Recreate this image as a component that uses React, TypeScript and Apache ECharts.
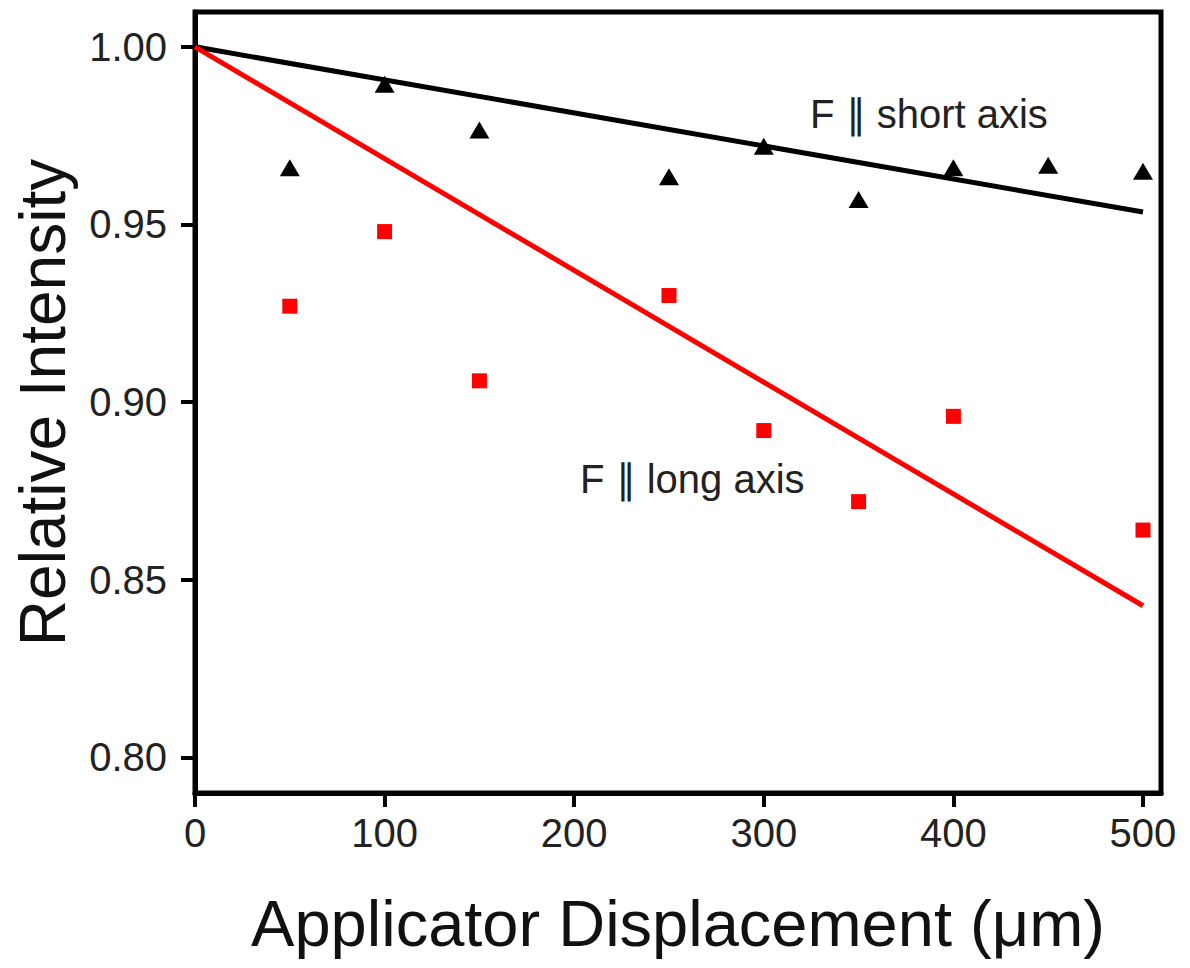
import React, { useEffect, useRef } from "react";
import * as echarts from "echarts";

const shortAxisX = [50, 100, 150, 250, 300, 350, 400, 450, 500];
const shortAxisY = [0.966, 0.9895, 0.9766, 0.9634, 0.972, 0.957, 0.966, 0.9667, 0.965];
const longAxisX = [50, 100, 150, 250, 300, 350, 400, 500];
const longAxisY = [0.927, 0.948, 0.906, 0.930, 0.892, 0.872, 0.896, 0.864];
const shortFitX = [0, 500];
const shortFitY = [1.0, 0.9535];
const longFitX = [0, 500];
const longFitY = [1.0, 0.8427];
const xTicks = [0, 100, 200, 300, 400, 500];
const yTicks = [0.8, 0.85, 0.9, 0.95, 1.0];

const FONT = "'Liberation Sans', Arial, Helvetica, sans-serif";

export default function App() {
  const ref = useRef<HTMLDivElement>(null);
  useEffect(() => {
    if (!ref.current) return;
    const chart = echarts.init(ref.current, null, { renderer: "svg" });
    const pair = (xs: number[], ys: number[]) => xs.map((x, i) => [x, ys[i]]);
    chart.setOption({
      animation: false,
      backgroundColor: "#fff",
      textStyle: { fontFamily: FONT },
      grid: {
        left: 195,
        right: 29,
        top: 12,
        bottom: 175,
        show: true,
        borderColor: "#000",
        borderWidth: 5,
      },
      xAxis: {
        type: "value",
        min: 0,
        max: 509.5,
        name: "Applicator Displacement (\u03bcm)",
        nameLocation: "middle",
        nameGap: 98,
        nameTextStyle: { fontSize: 65, color: "#111", fontFamily: FONT },
        axisLine: { show: true, onZero: false, lineStyle: { color: "#000", width: 5 } },
        axisTick: { show: true, length: 14, customValues: xTicks, lineStyle: { color: "#000", width: 4 } },
        axisLabel: {
          fontSize: 40,
          color: "#222",
          margin: 20,
          fontFamily: FONT,
          customValues: xTicks,
          formatter: (v: number) => String(Math.round(v)),
        },
        splitLine: { show: false },
      },
      yAxis: {
        type: "value",
        min: 0.79,
        max: 1.0098,
        name: "Relative Intensity",
        nameLocation: "middle",
        nameGap: 120,
        nameTextStyle: { fontSize: 64, color: "#111", fontFamily: FONT },
        axisLine: { show: true, onZero: false, lineStyle: { color: "#000", width: 5 } },
        axisTick: { show: true, length: 14, customValues: yTicks, lineStyle: { color: "#000", width: 4 } },
        axisLabel: {
          fontSize: 40,
          color: "#222",
          margin: 28,
          fontFamily: FONT,
          customValues: yTicks,
          formatter: (v: number) => v.toFixed(2),
        },
        splitLine: { show: false },
      },
      series: [
        {
          type: "line",
          data: pair(shortFitX, shortFitY),
          symbol: "none",
          lineStyle: { color: "#000", width: 5 },
          z: 3,
        },
        {
          type: "line",
          data: pair(longFitX, longFitY),
          symbol: "none",
          lineStyle: { color: "#ff0000", width: 5 },
          z: 4,
        },
        {
          type: "scatter",
          data: pair(shortAxisX, shortAxisY),
          symbol: "triangle",
          symbolSize: [20, 17],
          itemStyle: { color: "#000", opacity: 1 },
          z: 5,
        },
        {
          type: "scatter",
          data: pair(longAxisX, longAxisY),
          symbol: "rect",
          symbolSize: 15,
          itemStyle: { color: "#ff0000", opacity: 1 },
          z: 5,
        },
      ],
      graphic: [
        {
          type: "text",
          left: 810,
          top: 94,
          style: { text: "F \u2225 short axis", fontSize: 40, fill: "#222", fontFamily: FONT },
        },
        {
          type: "text",
          left: 580,
          top: 459,
          style: { text: "F \u2225 long axis", fontSize: 40, fill: "#222", fontFamily: FONT },
        },
      ],
    });
    return () => chart.dispose();
  }, []);
  return <div ref={ref} style={{ width: 1190, height: 968, position: "absolute", left: 0, top: 0 }} />;
}
